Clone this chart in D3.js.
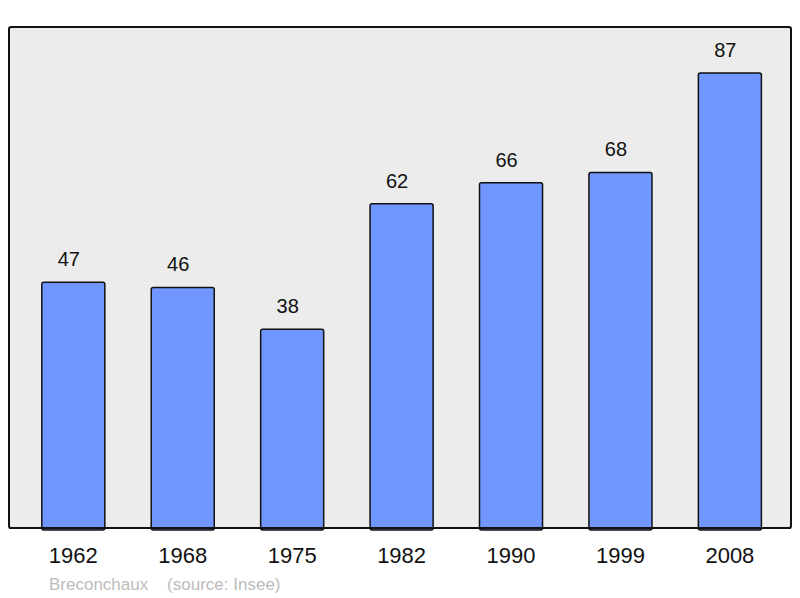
<!DOCTYPE html>
<html><head><meta charset="utf-8">
<script src="https://cdn.jsdelivr.net/npm/d3@7"></script>
<style>body{margin:0;background:#fff}svg{display:block}</style>
</head><body>
<script>
const years = ["1962","1968","1975","1982","1990","1999","2008"];
const population = [47,46,38,62,66,68,87];
const placeName = "Breconchaux";
const sourceText = "(source: Insee)";

const W = 800, H = 598;
const box = {x0: 9, y0: 27, x1: 791, y1: 528};
const svg = d3.select("body").append("svg").attr("width", W).attr("height", H);

svg.append("rect").attr("x", box.x0).attr("y", box.y0)
  .attr("width", box.x1 - box.x0).attr("height", box.y1 - box.y0)
  .attr("rx", 2).attr("fill", "#ececec").attr("stroke", "#111").attr("stroke-width", 2);

const x = d3.scaleBand().domain(years).range([18.6, 784.6]).paddingInner(0.424).paddingOuter(0.212);
const y = d3.scaleLinear().domain([0, 95.8]).range([box.y1, box.y0]);

svg.selectAll("rect.bar").data(population).join("rect").attr("class", "bar")
  .attr("x", (d, i) => x(years[i]))
  .attr("y", d => y(d))
  .attr("width", x.bandwidth())
  .attr("height", d => y(0) - y(d) + 2)
  .attr("rx", 2)
  .attr("fill", "#7097ff").attr("stroke", "#111").attr("stroke-width", 1.5);

svg.append("line").attr("x1", box.x0).attr("x2", box.x1).attr("y1", box.y1).attr("y2", box.y1)
  .attr("stroke", "#111").attr("stroke-width", 2);

svg.selectAll("text.val").data(population).join("text").attr("class", "val")
  .attr("x", (d, i) => x(years[i]) + x.bandwidth() / 2 - 4.5)
  .attr("y", d => y(d) - 16)
  .attr("text-anchor", "middle")
  .attr("font-family", "Liberation Sans, Arial, sans-serif")
  .attr("font-size", 20).attr("fill", "#111").text(d => d);

const xAxis = svg.append("g").attr("transform", `translate(0,${box.y1})`)
  .call(d3.axisBottom(x).tickSize(0).tickPadding(0));
xAxis.select(".domain").remove();
xAxis.selectAll("text").attr("y", 35).attr("dy", 0)
  .attr("font-family", "Liberation Sans, Arial, sans-serif")
  .attr("font-size", 22).attr("fill", "#111");

svg.append("text").attr("x", 49).attr("y", 590)
  .attr("font-family", "Liberation Sans, Arial, sans-serif")
  .attr("font-size", 17).attr("fill", "#bbbbbb")
  .attr("xml:space", "preserve")
  .text(placeName + "    " + sourceText);
</script>
</body></html>
